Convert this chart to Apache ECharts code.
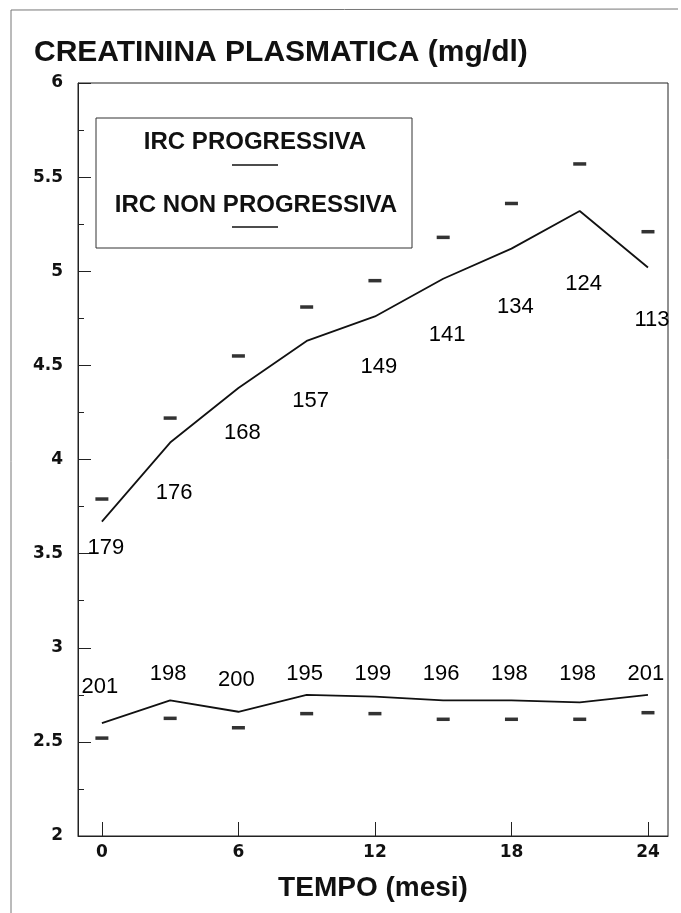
<!DOCTYPE html>
<html>
<head>
<meta charset="utf-8">
<script src="https://cdn.jsdelivr.net/npm/echarts@6/dist/echarts.min.js"></script>
<style>html,body{margin:0;padding:0;background:#fff;}#main{width:681px;height:913px;}</style>
</head>
<body>
<div id="main"></div>
<script>
// ---- data ----
const months = [0, 3, 6, 9, 12, 15, 18, 21, 24];
const xTicks = [0, 6, 12, 18, 24];
const yTicks = [2, 2.5, 3, 3.5, 4, 4.5, 5, 5.5, 6];

// IRC progressiva
const progMean   = [3.67, 4.09, 4.38, 4.63, 4.76, 4.96, 5.12, 5.32, 5.02];
const progSD     = [3.79, 4.22, 4.55, 4.81, 4.95, 5.18, 5.36, 5.57, 5.21];
const progN      = [179, 176, 168, 157, 149, 141, 134, 124, 113];
const progLabelY = [3.53, 3.82, 4.14, 4.31, 4.49, 4.66, 4.81, 4.93, 4.74];

// IRC non progressiva
const nonMean    = [2.60, 2.72, 2.66, 2.75, 2.74, 2.72, 2.72, 2.71, 2.75];
const nonSD      = [2.52, 2.625, 2.575, 2.65, 2.65, 2.62, 2.62, 2.62, 2.655];
const nonN       = [201, 198, 200, 195, 199, 196, 198, 198, 201];
const nonLabelY  = [2.79, 2.86, 2.83, 2.86, 2.86, 2.86, 2.86, 2.86, 2.86];

const INK = '#111';
const chart = echarts.init(document.getElementById('main'), null, {renderer: 'canvas'});

function pairs(ys) { return months.map((m, i) => [m, ys[i]]); }
function labelData(ys, ns) { return months.map((m, i) => [m, ys[i], ns[i]]); }

const labelStyle = (dx) => ({
  show: true, position: 'inside', offset: [dx, 0],
  formatter: p => String(p.data[2]),
  fontFamily: 'Liberation Sans', fontSize: 22, color: '#000',
  textBorderWidth: 0, opacity: 1
});

const option = {
  animation: false,
  backgroundColor: '#fff',
  title: {
    text: 'CREATININA PLASMATICA (mg/dl)',
    left: 29, top: 33,
    textStyle: {fontFamily: 'Liberation Sans', fontWeight: 'bold', fontSize: 30, color: INK}
  },
  grid: {left: 78, top: 83, width: 590, height: 753, show: true, borderColor: '#222', borderWidth: 1},
  xAxis: {
    type: 'value', min: -1.05, max: 24.88,
    name: 'TEMPO (mesi)', nameLocation: 'middle', nameGap: 38,
    nameTextStyle: {fontFamily: 'Liberation Sans', fontWeight: 'bold', fontSize: 28, color: INK},
    axisLine: {show: true, onZero: false, lineStyle: {color: '#222', width: 1}},
    axisTick: {show: true, inside: true, length: 14, customValues: xTicks, lineStyle: {color: '#222'}},
    axisLabel: {customValues: xTicks, margin: 8, fontFamily: 'DejaVu Sans', fontWeight: 'bold', fontSize: 17, color: INK},
    splitLine: {show: false}
  },
  yAxis: {
    type: 'value', min: 2, max: 6, interval: 0.5,
    axisLine: {show: true, onZero: false, lineStyle: {color: '#222', width: 1}},
    axisTick: {show: true, inside: true, length: 13, customValues: yTicks, lineStyle: {color: '#222'}},
    minorTick: {show: true, splitNumber: 2, length: 6, lineStyle: {color: '#222'}},
    axisLabel: {customValues: yTicks, margin: 15, fontFamily: 'DejaVu Sans', fontWeight: 'bold', fontSize: 17, color: INK},
    splitLine: {show: false}
  },
  series: [
    {type: 'line', data: pairs(progMean), symbol: 'none', silent: true, lineStyle: {color: INK, width: 1.8}},
    {type: 'scatter', data: pairs(progSD), symbol: 'rect', symbolSize: [13, 3.5], silent: true, itemStyle: {color: '#000'}},
    {type: 'scatter', data: labelData(progLabelY, progN), symbolSize: 0, silent: true,
      itemStyle: {color: '#000'}, label: labelStyle(4)},
    {type: 'line', data: pairs(nonMean), symbol: 'none', silent: true, lineStyle: {color: INK, width: 1.8}},
    {type: 'scatter', data: pairs(nonSD), symbol: 'rect', symbolSize: [13, 3.5], silent: true, itemStyle: {color: '#000'}},
    {type: 'scatter', data: labelData(nonLabelY, nonN), symbolSize: 0, silent: true,
      itemStyle: {color: '#000'}, label: labelStyle(-2)}
  ],
  graphic: [
    // page border of the scan
    {type: 'line', shape: {x1: 11, y1: 10, x2: 11, y2: 913}, style: {stroke: '#777', lineWidth: 1}},
    {type: 'line', shape: {x1: 11, y1: 10, x2: 678, y2: 9}, style: {stroke: '#777', lineWidth: 1}},
    // legend box
    {type: 'rect', shape: {x: 96, y: 118, width: 316, height: 130}, style: {fill: '#fff', stroke: '#333', lineWidth: 1}},
    {type: 'text', x: 255, y: 142, style: {text: 'IRC PROGRESSIVA', align: 'center', verticalAlign: 'middle',
      fontFamily: 'Liberation Sans', fontWeight: 'bold', fontSize: 24, fill: INK}},
    {type: 'line', shape: {x1: 232, y1: 165, x2: 278, y2: 165}, style: {stroke: INK, lineWidth: 1.5}},
    {type: 'text', x: 256, y: 205, style: {text: 'IRC NON PROGRESSIVA', align: 'center', verticalAlign: 'middle',
      fontFamily: 'Liberation Sans', fontWeight: 'bold', fontSize: 24, fill: INK}},
    {type: 'line', shape: {x1: 232, y1: 227, x2: 278, y2: 227}, style: {stroke: INK, lineWidth: 1.5}}
  ]
};
chart.setOption(option);
</script>
</body>
</html>
